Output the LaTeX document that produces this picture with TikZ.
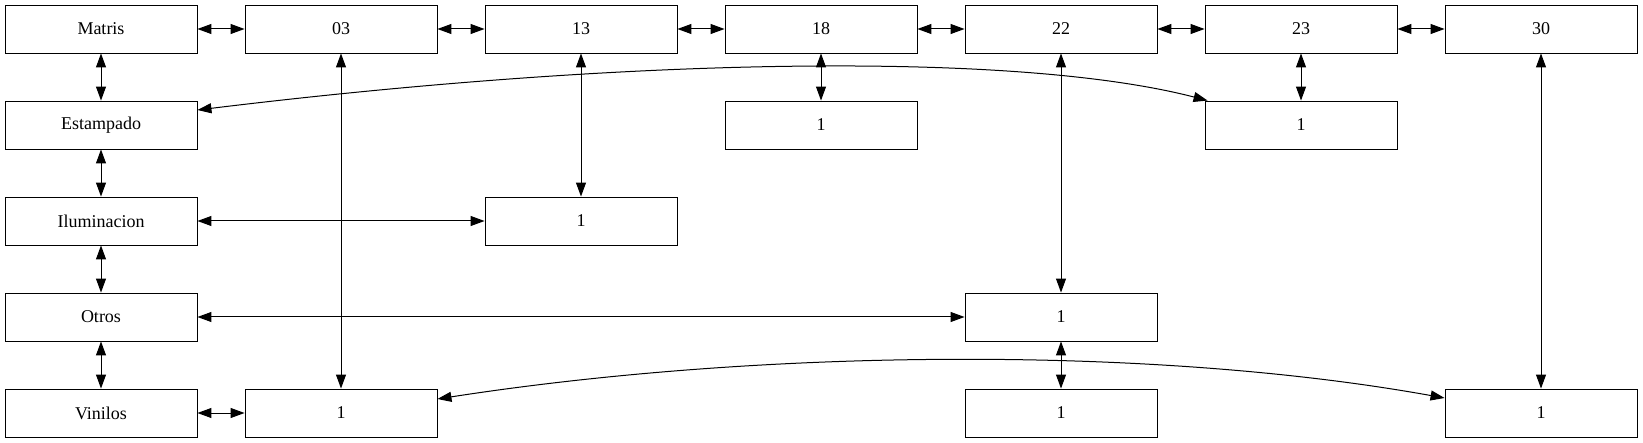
\documentclass[tikz,border=0pt]{standalone}
\usepackage{fontspec}
\setmainfont{Liberation Serif}
\usetikzlibrary{arrows.meta,calc}
\begin{document}
\begin{tikzpicture}[x=1pt,y=-1pt,
  box/.style={draw,line width=0.9pt,rectangle,minimum width=192pt,minimum height=48pt,inner sep=0pt,font=\fontsize{18}{20}\selectfont},
  link/.style={line width=1pt,{Triangle[length=14pt,width=10pt]}-{Triangle[length=14pt,width=10pt]}}]
\useasboundingbox (0,0) rectangle (1643,443);
% column centres: 101 + 240 i ; row centres: 29 + 96 j
\node[box] (matris) at (101,29) {Matris};
\node[box] (c03) at (341,29) {03};
\node[box] (c13) at (581,29) {13};
\node[box] (c18) at (821,29) {18};
\node[box] (c22) at (1061,29) {22};
\node[box] (c23) at (1301,29) {23};
\node[box] (c30) at (1541,29) {30};
\node[box] (estampado) at (101,125) {Estampado};
\node[box] (e18) at (821,125) {1};
\node[box] (e23) at (1301,125) {1};
\node[box] (ilum) at (101,221) {Iluminacion};
\node[box] (i13) at (581,221) {1};
\node[box] (otros) at (101,317) {Otros};
\node[box] (o22) at (1061,317) {1};
\node[box] (vinilos) at (101,413) {Vinilos};
\node[box] (v03) at (341,413) {1};
\node[box] (v22) at (1061,413) {1};
\node[box] (v30) at (1541,413) {1};
% top row
\draw[link] (matris) -- (c03);
\draw[link] (c03) -- (c13);
\draw[link] (c13) -- (c18);
\draw[link] (c18) -- (c22);
\draw[link] (c22) -- (c23);
\draw[link] (c23) -- (c30);
% left column
\draw[link] (matris) -- (estampado);
\draw[link] (estampado) -- (ilum);
\draw[link] (ilum) -- (otros);
\draw[link] (otros) -- (vinilos);
% verticals
\draw[link] (c03) -- (v03);
\draw[link] (c13) -- (i13);
\draw[link] (c18) -- (e18);
\draw[link] (c22) -- (o22);
\draw[link] (c23) -- (e23);
\draw[link] (c30) -- (v30);
\draw[link] (o22) -- (v22);
% horizontals
\draw[link] (ilum) -- (i13);
\draw[link] (otros) -- (o22);
\draw[link] (vinilos) -- (v03);
% curves
\draw[link] ([yshift=15pt]estampado.east) .. controls (640,56) and (1020,52) .. ([xshift=3pt]e23.north west);
\draw[link] ([yshift=14pt]v03.east) .. controls (760,349) and (1150,345) .. ([yshift=15pt]v30.west);
\end{tikzpicture}
\end{document}
